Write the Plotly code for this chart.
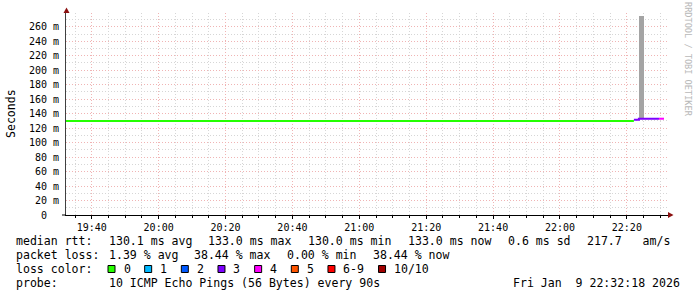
import plotly.graph_objects as go
import pandas as pd

# ---------------- data ----------------
x_start = "2026-01-09 19:32:18"
x_end = "2026-01-09 22:32:18"

seg_start = ["2026-01-09 19:32:18", "2026-01-09 22:22:06", "2026-01-09 22:23:36", "2026-01-09 22:29:36"]
seg_end = ["2026-01-09 22:22:06", "2026-01-09 22:23:36", "2026-01-09 22:29:36", "2026-01-09 22:31:06"]
seg_rtt_ms = [130.0, 131.5, 133.0, 133.0]
seg_loss = [0, 3, 3, 4]

smoke_start = ["2026-01-09 22:23:36"]
smoke_lo_ms = [133.0]
smoke_hi_ms = [275.0]
smoke_step_s = 90

x_tick_times = ["2026-01-09 19:40", "2026-01-09 20:00", "2026-01-09 20:20", "2026-01-09 20:40",
                "2026-01-09 21:00", "2026-01-09 21:20", "2026-01-09 21:40", "2026-01-09 22:00",
                "2026-01-09 22:20"]
x_tick_labels = ["19:40", "20:00", "20:20", "20:40", "21:00", "21:20", "21:40", "22:00", "22:20"]
y_tick_vals = [0, 20, 40, 60, 80, 100, 120, 140, 160, 180, 200, 220, 240, 260]
y_tick_labels = ["0\u00a0\u00a0", "20 m", "40 m", "60 m", "80 m", "100 m", "120 m", "140 m",
                 "160 m", "180 m", "200 m", "220 m", "240 m", "260 m"]
y_max = 279

loss_keys = [0, 1, 2, 3, 4, 5, 6, 10]
loss_labels = ["0", "1", "2", "3", "4", "5", "6-9", "10/10"]
loss_colors = ["#26ff00", "#00b8ff", "#0059ff", "#7e00ff", "#ff00ff", "#ff5500", "#ff0000", "#a10000"]

rtt_legend = ["130.1 ms avg", "133.0 ms max", "130.0 ms min", "133.0 ms now", "0.6 ms sd", "217.7   am/s"]
loss_legend = ["1.39 % avg", "38.44 % max", "0.00 % min", "38.44 % now"]
probe_text = "10 ICMP Echo Pings (56 Bytes) every 90s"
date_text = "Fri Jan  9 22:32:18 2026"

# ---------------- geometry ----------------
W, H = 697, 297
L, R, T, B = 66, 668, 13, 215
PW, PH = R - L, B - T
MONO = "DejaVu Sans Mono"
FS = 11.56
CW = FS * 0.6021
GAP = 16.3
TAB = 107.5


def px(x):
    return (x - L) / PW


def py(y):
    return (B - y) / PH


def color_for(loss):
    idx = 0
    for i, k in enumerate(loss_keys):
        if loss >= k:
            idx = i
    return loss_colors[idx]


fig = go.Figure()

# smoke
sm_x = pd.to_datetime(smoke_start)
fig.add_trace(go.Bar(
    x=sm_x, y=[h - l for h, l in zip(smoke_hi_ms, smoke_lo_ms)], base=smoke_lo_ms,
    width=[smoke_step_s * 1000] * len(smoke_start), offset=0,
    marker=dict(color="#a4a4a4", line=dict(width=0)), showlegend=False, hoverinfo="skip"))

# median rtt lines per loss color
groups = {}
order = []
for i in range(len(seg_start)):
    c = color_for(seg_loss[i])
    if c not in groups:
        groups[c] = ([], [])
        order.append(c)
    xs, ys = groups[c]
    prev_same = i > 0 and color_for(seg_loss[i - 1]) == c
    if not prev_same and xs:
        xs.append(None)
        ys.append(None)
    xs.append(seg_start[i])
    ys.append(seg_rtt_ms[i])
    next_same = i + 1 < len(seg_start) and color_for(seg_loss[i + 1]) == c
    if not next_same:
        xs.append(seg_end[i])
        ys.append(seg_rtt_ms[i])
for c in order:
    xs, ys = groups[c]
    fig.add_trace(go.Scatter(x=xs, y=ys, mode="lines", line=dict(color=c, width=2, shape="hv"),
                             connectgaps=False, showlegend=False, hoverinfo="skip"))

grid_major = "#f0b4b4"
grid_minor = "#d6d6d6"
GD = "1px,2px"

fig.update_xaxes(
    type="date", range=[x_start, x_end],
    tickmode="array", tickvals=x_tick_times, ticktext=x_tick_labels,
    showgrid=True, gridcolor=grid_major, griddash=GD, gridwidth=1,
    ticks="outside", ticklen=3, tickcolor="#000000",
    minor=dict(dtick=300000, tick0="2026-01-09 19:40", showgrid=True, gridcolor=grid_minor,
               griddash=GD, ticks="outside", ticklen=2, tickcolor="#000000"),
    showline=True, linecolor="#000000", linewidth=1,
    tickfont=dict(family=MONO, size=10, color="#000000"),
    zeroline=False, fixedrange=True)

fig.update_yaxes(
    range=[0, y_max], tickmode="array", tickvals=y_tick_vals, ticktext=y_tick_labels,
    showgrid=True, gridcolor=grid_major, griddash=GD, gridwidth=1,
    ticks="", ticklabelstandoff=4,
    minor=dict(dtick=10, tick0=0, showgrid=True, gridcolor=grid_minor, griddash=GD),
    showline=True, linecolor="#404040", linewidth=1,
    tickfont=dict(family=MONO, size=10, color="#000000"),
    zeroline=False, fixedrange=True)

anns = []


def text(x, y, s, anchor="left", size=FS, color="#000000", angle=0):
    anns.append(dict(x=px(x), y=py(y), xref="paper", yref="paper", text=s.replace(" ", "\u00a0"),
                     showarrow=False, xanchor=anchor, yanchor="middle", borderpad=0,
                     textangle=angle, font=dict(family=MONO, size=size, color=color)))


# axis title & watermark
text(11, 114, "Seconds", anchor="center", angle=-90)
text(688, 59, "RRDTOOL / TOBI OETIKER", anchor="center", size=8.6, color="#b8b8b8", angle=90)

# legend lines
ly = [241, 255, 269, 283]
text(15, ly[0], "median rtt:")
pos = TAB
for s in rtt_legend:
    text(pos, ly[0], s)
    pos += len(s) * CW + GAP

text(15, ly[1], "packet loss:")
pos = TAB
for s in loss_legend:
    text(pos, ly[1], s)
    pos += len(s) * CW + GAP

text(15, ly[2], "loss color:")
shapes = []
pos = TAB + 0.5
for lab, col in zip(loss_labels, loss_colors):
    shapes.append(dict(type="rect", xref="paper", yref="paper",
                       x0=px(pos), x1=px(pos + 7), y0=py(ly[2] + 3.5), y1=py(ly[2] - 3.5),
                       fillcolor=col, line=dict(color="#000000", width=1)))
    text(pos + 14.5, ly[2], lab)
    pos += 14.5 + len(lab) * CW + 15.2

text(15, ly[3], "probe:")
text(TAB, ly[3], probe_text)
text(681, ly[3], date_text, anchor="right")

# arrows
arrow_col = "#8b1010"
shapes.append(dict(type="path", xref="paper", yref="paper",
                   path=f"M {px(63.5)} {py(13)} L {px(66.5)} {py(7.5)} L {px(69.5)} {py(13)} Z",
                   fillcolor=arrow_col, line=dict(color=arrow_col, width=0)))
shapes.append(dict(type="path", xref="paper", yref="paper",
                   path=f"M {px(668)} {py(212)} L {px(673.5)} {py(215)} L {px(668)} {py(218)} Z",
                   fillcolor=arrow_col, line=dict(color=arrow_col, width=0)))
# x axis line extends slightly left of y axis
shapes.append(dict(type="line", xref="paper", yref="paper", x0=px(62), x1=px(66), y0=py(215), y1=py(215),
                   line=dict(color="#000000", width=1)))

fig.update_layout(
    width=W, height=H, margin=dict(l=L, r=W - R, t=T, b=H - B, autoexpand=False),
    paper_bgcolor="#ffffff", plot_bgcolor="#ffffff",
    showlegend=False, annotations=anns, shapes=shapes, bargap=0,
    font=dict(family=MONO, size=10, color="#000000"))

fig.write_html("out.html", config={"displayModeBar": False})
